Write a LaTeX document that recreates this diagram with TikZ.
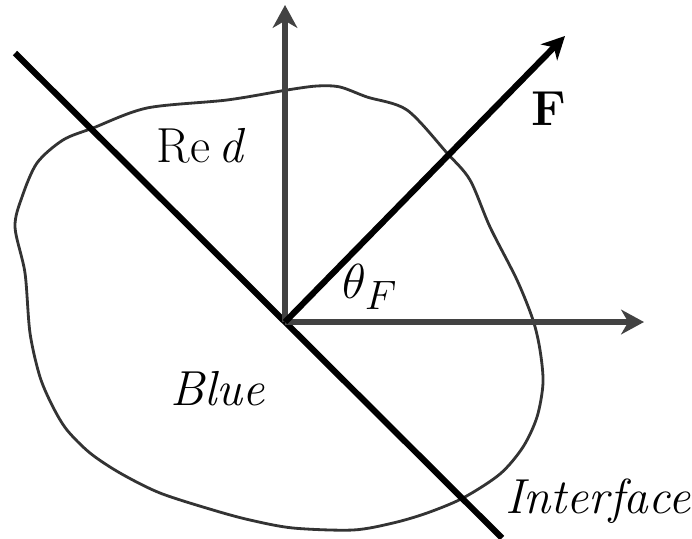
\documentclass[tikz,border=0pt]{standalone}
\usepackage{graphicx}
\usetikzlibrary{arrows.meta}

\begin{document}
\begin{tikzpicture}[x=0.02cm,y=-0.02cm,
  axis/.style={draw=black!74,line width=3.1pt,-{Stealth[length=13pt,width=14pt,inset=4pt]}},
  force/.style={draw=black,line width=3.5pt,-{Stealth[length=13pt,width=13pt,inset=4pt]}},
  iface/.style={draw=black,line width=3.5pt},
  blob/.style={draw=black!80,line width=1.6pt},
  lbl/.style={font=\fontsize{28}{32}\selectfont,inner sep=0pt,anchor=base}
]
  \path[use as bounding box] (0,0) rectangle (692,538);

  % droplet outline
  \draw[blob] plot[smooth cycle,tension=0.5] coordinates {
    (15,227) (22,197) (37,163) (63,140) (93,128) (147,108) (227,100) (287,90)
    (317,86) (340,87) (367,97) (407,110) (447,153) (470,180) (490,227) (517,280)
    (533,320) (540,350) (543,383) (537,417) (523,447) (500,474) (463,498) (427,513)
    (393,523) (353,530) (293,528) (250,520) (213,510) (160,493) (120,473) (90,453)
    (67,430) (53,407) (40,377) (30,333) (25,273)};

  \coordinate (O)   at (285,322);
  \coordinate (ifA) at (15,53);
  \coordinate (ifB) at (502,538);
  \coordinate (yend) at (285,5);
  \coordinate (xend) at (644,322);
  \coordinate (fend) at (565,36);

  \draw[iface] (ifA) -- (ifB);
  \draw[axis] (O) -- (yend);
  \draw[axis] (O) -- (xend);
  \draw[force] (O) -- (fend);

  \node[lbl] (red)   at (201,162) {Re\,\textit{d}};
  \node[lbl] (force) at (549,125) {\textbf{F}};
  \node[lbl] (theta) at (370,298) {\scalebox{1.125}{\Huge$\theta_F$}};
  \node[lbl] (blue)  at (218,405) {\textit{Blue}};
  \node[lbl,anchor=base east] (intf) at (691,513) {\textit{Interface}};
\end{tikzpicture}
\end{document}
